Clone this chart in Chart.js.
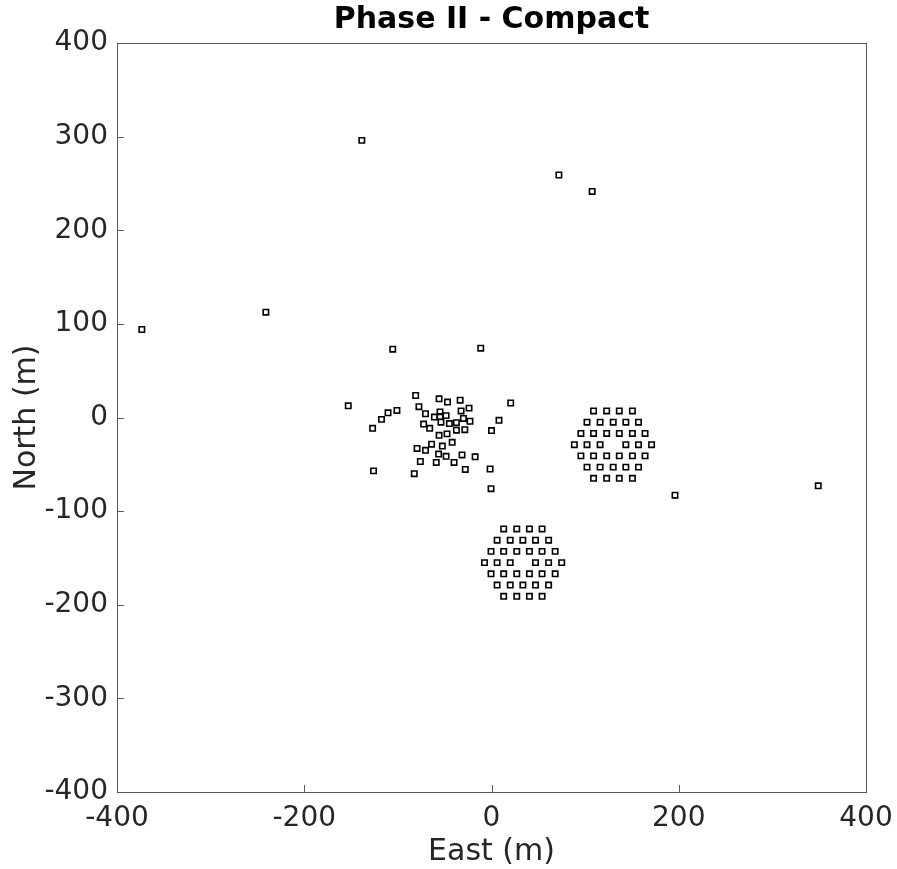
<!DOCTYPE html>
<html>
<head>
<meta charset="utf-8">
<script src="https://cdn.jsdelivr.net/npm/chart.js@4"></script>
<style>
  html, body { margin: 0; padding: 0; background: #fff; }
  #wrap { width: 897px; height: 869px; }
</style>
</head>
<body>
<div id="wrap"><canvas id="grafico"></canvas></div>
<script>
// ===== data (m) =====
// outlying single antennas
const outerEast  = [-138.5, 72, 107.5, -373.5, -241, -105.5, -11.5, 196, 349];
const outerNorth = [296, 259, 241.5, 94, 112.5, 73, 74, -83, -73];

// irregular core near the origin
const coreEast  = [-153, -127, -126, -117.5, -110.5, -101, -81, -77.5, -70.5, -72.5,
                   -66, -61, -56, -47, -55, -55, -48.5, -54, -45, -37.5,
                   -33.5, -24, -32.5, -30, -23, -37.5, -28.5, -56, -47.5, -42,
                   -64, -52.5, -79.5, -70.5, -56.5, -48.5, -31.5, -17.5, -76, -59,
                   -40, -28, -82.5, -1.5, -0.5, 0, 8, 20.5];
const coreNorth = [12.5, -11.5, -57, -2, 5, 7.5, 23.5, 11.5, 4, -7,
                   -11.5, 0.5, 20, 16.5, 6, 1, 2, -5, -6.5, -5.5,
                   18.5, 10, 7, -1, -4, -13.5, -13, -19, -17.5, -26.5,
                   -28.5, -30.5, -33, -35, -39, -41.5, -40, -42, -47, -48,
                   -48, -55.5, -60, -55, -76, -14, -3, 15.5];

// hexagonal cluster east
const hexEEast  = [109, 123, 136.5, 150.5,
                   102, 116, 130, 143.5, 157,
                   95.5, 109, 123, 136.5, 150.5, 164,
                   88.5, 102, 116, 143.5, 157, 171,
                   95.5, 109, 123, 136.5, 150.5, 164,
                   102, 116, 130, 143.5, 157,
                   109, 123, 136.5, 150.5];
const hexENorth = [7, 7, 7, 7,
                   -5, -5, -5, -5, -5,
                   -17, -17, -17, -17, -17, -17,
                   -29, -29, -29, -29, -29, -29,
                   -41, -41, -41, -41, -41, -41,
                   -53, -53, -53, -53, -53,
                   -65, -65, -65, -65];

// hexagonal cluster south
const hexSEast  = [13, 27, 40.5, 54,
                   6, 20, 33.5, 47, 61,
                   -0.5, 13, 27, 40.5, 54, 68,
                   -7.5, 6, 20, 47, 61, 75,
                   -0.5, 13, 27, 40.5, 54, 68,
                   6, 20, 33.5, 47, 61,
                   13, 27, 40.5, 54];
const hexSNorth = [-119, -119, -119, -119,
                   -131, -131, -131, -131, -131,
                   -143, -143, -143, -143, -143, -143,
                   -155, -155, -155, -155, -155, -155,
                   -167, -167, -167, -167, -167, -167,
                   -179, -179, -179, -179, -179,
                   -191, -191, -191, -191];

const xTicks = [-400, -200, 0, 200, 400];
const yTicks = [-400, -300, -200, -100, 0, 100, 200, 300, 400];

// junta x/y em pontos
function pares(xs, ys) { return xs.map((x, i) => ({ x: x, y: ys[i] })); }
const pontos = [].concat(
  pares(outerEast, outerNorth),
  pares(coreEast, coreNorth),
  pares(hexEEast, hexENorth),
  pares(hexSEast, hexSNorth)
);

const corTexto = '#262626';
const corEixo = '#595959';

// caixa do eixo + ticks para dentro (estilo MATLAB)
const caixaPlugin = {
  id: 'caixa',
  afterDraw(chart) {
    const { ctx, chartArea: a, scales } = chart;
    ctx.save();
    ctx.strokeStyle = corEixo;
    ctx.lineWidth = 1;
    ctx.strokeRect(a.left + 0.5, a.top + 0.5, a.right - a.left, a.bottom - a.top);
    xTicks.forEach(v => {
      const px = Math.round(scales.x.getPixelForValue(v)) + 0.5;
      ctx.beginPath(); ctx.moveTo(px, a.bottom); ctx.lineTo(px, a.bottom - 7); ctx.stroke();
    });
    yTicks.forEach(v => {
      const py = Math.round(scales.y.getPixelForValue(v)) + 0.5;
      ctx.beginPath(); ctx.moveTo(a.left, py); ctx.lineTo(a.left + 7, py); ctx.stroke();
    });
    ctx.restore();
  }
};

const ctx = document.getElementById('grafico').getContext('2d');
new Chart(ctx, {
  type: 'scatter',
  data: {
    datasets: [{
      data: pontos,
      pointStyle: 'rect',
      pointRadius: 3.8,
      pointBorderWidth: 1.6,
      borderColor: '#000',
      backgroundColor: 'rgba(0,0,0,0)',
      pointHoverRadius: 3.8
    }]
  },
  options: {
    responsive: true,
    maintainAspectRatio: false,
    animation: false,
    events: [],
    layout: { padding: { left: 0, right: 31, top: 0, bottom: 0 } },
    plugins: {
      legend: { display: false },
      tooltip: { enabled: false },
      title: {
        display: true,
        fullSize: false,
        text: 'Phase II - Compact',
        color: '#000',
        font: { family: 'DejaVu Sans', size: 30, weight: 'bold' },
        padding: { top: 2, bottom: 5 }
      }
    },
    scales: {
      x: {
        type: 'linear',
        min: -400, max: 400,
        afterBuildTicks: s => { s.ticks = xTicks.map(v => ({ value: v })); },
        afterFit: s => { s.height = 77; s.paddingLeft = 0; s.paddingRight = 0; },
        grid: { display: false, drawTicks: false },
        border: { display: false },
        ticks: { color: corTexto, font: { family: 'DejaVu Sans', size: 28 }, padding: 10, maxRotation: 0 },
        title: { display: true, text: 'East (m)', color: corTexto,
                 font: { family: 'DejaVu Sans', size: 30, lineHeight: 1.1 }, padding: { top: 0, bottom: 0 } }
      },
      y: {
        type: 'linear',
        min: -400, max: 400,
        afterBuildTicks: s => { s.ticks = yTicks.map(v => ({ value: v })); },
        afterFit: s => { s.width = 117; s.paddingTop = 0; s.paddingBottom = 0; },
        grid: { display: false, drawTicks: false },
        border: { display: false },
        ticks: { color: corTexto, font: { family: 'DejaVu Sans', size: 28 }, padding: 9 },
        title: { display: true, text: 'North (m)', color: corTexto,
                 font: { family: 'DejaVu Sans', size: 30 }, padding: { top: 9, bottom: 0 } }
      }
    }
  },
  plugins: [caixaPlugin]
});
</script>
</body>
</html>
